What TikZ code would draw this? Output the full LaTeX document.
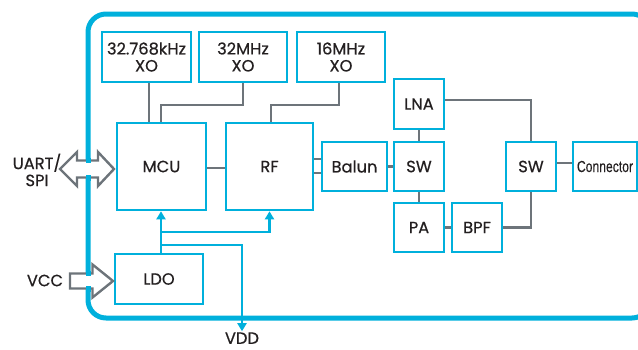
\documentclass[tikz,border=0pt]{standalone}
\usepackage{fontspec}
\setmainfont{Poppins}[FakeBold=0.5]
\newfontfamily\narrowfont{Liberation Sans}[FakeBold=0.3]
\usetikzlibrary{arrows.meta,calc}
\definecolor{cyanb}{HTML}{00B0DC}
\definecolor{grayl}{HTML}{6D747A}
\definecolor{txt}{HTML}{231F20}
\tikzset{
  blk/.style={draw=cyanb, line width=2.6pt, fill=white, text=txt, inner sep=0pt, align=center,
    font=\fontsize{16.3}{17}\selectfont},
  gl/.style={draw=grayl, line width=2.6pt},
  bl/.style={draw=cyanb, line width=2.2pt},
  bla/.style={bl, -{Triangle[width=9pt,length=8pt]}},
  frame/.style={draw=cyanb, line width=5pt},
  hol/.style={draw=grayl, line width=2.4pt, fill=white, line join=miter},
  lbl/.style={text=txt, inner sep=0pt, align=center, font=\fontsize{16.3}{17}\selectfont}
}
\begin{document}
\begin{tikzpicture}[x=1pt,y=-1pt]
\useasboundingbox (0,0) rectangle (638,349);
% frame
\draw[frame, rounded corners=18pt] (88,14) rectangle (650,318);
% boxes
\node[blk, minimum width=89, minimum height=50] (xoA) at (146.5,57) {32.768kHz\\XO};
\node[blk, minimum width=88, minimum height=50] (xoB) at (243,57) {32MHz\\XO};
\node[blk, minimum width=88, minimum height=50] (xoC) at (341,57) {16MHz\\XO};
\node[blk, minimum width=89, minimum height=87] (mcu) at (161.5,166.5) {MCU};
\node[blk, minimum width=87, minimum height=87] (rf) at (269.5,166.5) {RF};
\node[blk, minimum width=65, minimum height=49] (balun) at (354.5,166.5) {Balun};
\node[blk, minimum width=50, minimum height=49] (sw1) at (419,166.5) {SW};
\node[blk, minimum width=50, minimum height=50] (lna) at (419,104) {LNA};
\node[blk, minimum width=50, minimum height=49] (pa) at (419,227.5) {PA};
\node[blk, minimum width=50, minimum height=49] (bpf) at (477,227.5) {BPF};
\node[blk, minimum width=50, minimum height=49] (sw2) at (531,166.5) {SW};
\node[blk, minimum width=64, minimum height=49] (conn) at (605,166.5) {\scalebox{0.76}[1]{\narrowfont\fontsize{16}{17}\selectfont Connector}};
\node[blk, minimum width=88, minimum height=50] (ldo) at (159,279) {LDO};
% gray connections
\coordinate (xa) at ($(xoA.south)+(2.5,0)$);
\draw[gl] (xa) -- (xa |- mcu.north);
\coordinate (b1) at (161,105);
\draw[gl] (xoB.south) -- (xoB.south |- b1) -- (b1) -- (b1 |- mcu.north);
\coordinate (xc) at ($(xoC.south)+(-2,0)$);
\coordinate (b2) at (271,105);
\draw[gl] (xc) -- (xc |- b2) -- (b2) -- (b2 |- rf.north);
\coordinate (m1) at ($(mcu.east)+(0,1.5)$);
\draw[gl] (m1) -- (m1 -| rf.west);
\coordinate (r1) at ($(rf.east)+(0,-7.5)$);
\coordinate (r2) at ($(rf.east)+(0,6.5)$);
\draw[gl] (r1) -- (r1 -| balun.west);
\draw[gl] (r2) -- (r2 -| balun.west);
\draw[gl] (balun.east) -- (sw1.west);
\draw[gl] (lna.south) -- (sw1.north);
\draw[gl] (sw1.south) -- (pa.north);
\draw[gl] (pa.east) -- (bpf.west);
\draw[gl] (bpf.east) -- (sw2.south |- bpf.east) -- (sw2.south);
\coordinate (l1) at ($(lna.east)+(0,-4)$);
\draw[gl] (l1) -- (sw2.north |- l1) -- (sw2.north);
\coordinate (s1) at ($(sw2.east)+(0,-3.5)$);
\draw[gl] (s1) -- (s1 -| conn.west);
% blue power lines
\coordinate (lt) at ($(ldo.north)+(2,0)$);
\coordinate (j1) at (161,232);
\coordinate (j2) at (161,245);
\node[lbl, anchor=south] (vdd) at (242,344) {VDD};
\draw[bla] (lt) -- (lt |- mcu.south);
\draw[bla] (j1) -| (rf.south);
\draw[bla] (j2) -| ($(vdd.north)+(0,-1)$);
% hollow arrows
\draw[hol] (60,169) -- (77,152) -- (77,160.5) -- (98,160.5) -- (98,152) -- (114,169)
  -- (98,186) -- (98,177.5) -- (77,177.5) -- (77,186) -- cycle;
\draw[hol] (70,273.5) -- (92.5,273.5) -- (92.5,264.5) -- (113,281) -- (92.5,297.5)
  -- (92.5,288.5) -- (70,288.5) -- cycle;
\draw[frame] (88,157.5) -- (88,163);
\draw[frame] (88,175) -- (88,180.5);
\draw[frame] (88,270.5) -- (88,276);
\draw[frame] (88,286) -- (88,291.5);
% labels
\node[lbl] (uart) at (37,170) {UART/\\SPI};
\node[lbl] (vcc) at (45,280.5) {VCC};
\end{tikzpicture}
\end{document}
